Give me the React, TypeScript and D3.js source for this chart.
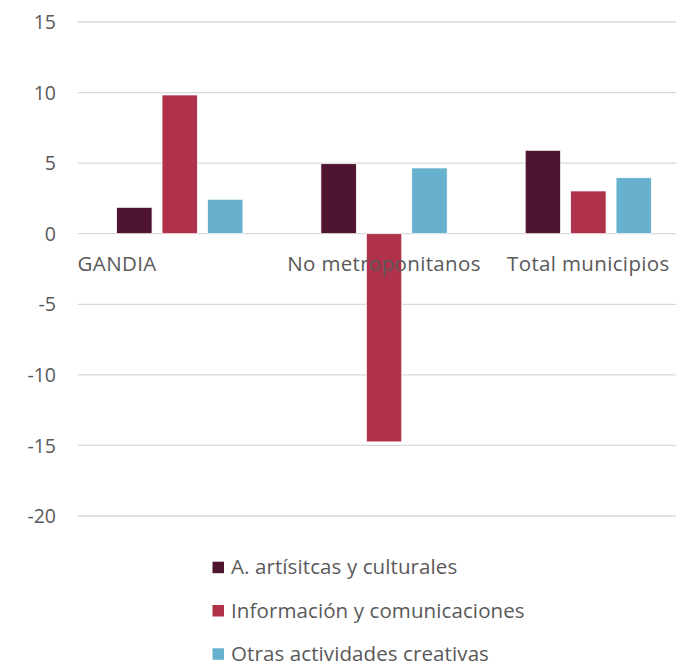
import React from "react";
import * as d3 from "d3";

const categories = ["GANDIA", "No metroponitanos", "Total municipios"];
const seriesNames = [
  "A. artísitcas y culturales",
  "Información y comunicaciones",
  "Otras actividades creativas",
];
const artisticas = [1.87, 4.96, 5.91];
const informacion = [9.83, -14.75, 3.03];
const otras = [2.44, 4.66, 3.97];
const yTicks = [15, 10, 5, 0, -5, -10, -15, -20];
const colors = ["#4E1430", "#B0314A", "#67B1CE"];

const W = 676;
const H = 664;
const FONT = "'Open Sans', Lato, sans-serif";
const TEXT = "#595959";
const FS = 20.5;
const LS = 0.35;

export default function App() {
  const series = [artisticas, informacion, otras];
  const y = d3.scaleLinear().domain([-20, 15]).range([516, 22]);
  const x0 = d3.scaleBand<string>().domain(categories).range([77.6, 690.5]).paddingInner(0).paddingOuter(0);
  const groupW = 126.3;
  const x1 = d3
    .scaleBand<number>()
    .domain([0, 1, 2])
    .range([0, groupW])
    .paddingInner(0.22);
  const gridX1 = 77.6;
  const gridX2 = 676;

  return (
    <svg
      width={W}
      height={H}
      style={{ position: "absolute", left: 0, top: 0, background: "#fff" }}
      fontFamily={FONT}
    >
      {yTicks.map((t) => (
        <g key={t}>
          <line x1={gridX1} x2={gridX2} y1={y(t)} y2={y(t)} stroke="#D9D9D9" strokeWidth={1.3} />
          <text x={56} y={y(t) + 7.2} textAnchor="end" fontSize={19.5} fill={TEXT}>
            {t}
          </text>
        </g>
      ))}
      {categories.map((c, ci) => {
        const gx = (x0(c) as number) + (x0.bandwidth() - groupW) / 2;
        return (
          <g key={c}>
            {series.map((s, si) => {
              const v = s[ci];
              const y0 = y(0);
              const yv = y(v);
              return (
                <rect
                  key={si}
                  x={gx + (x1(si) as number)}
                  y={Math.min(y0, yv)}
                  width={x1.bandwidth()}
                  height={Math.abs(yv - y0)}
                  fill={colors[si]}
                  stroke="#fff"
                  strokeWidth={0.75}
                />
              );
            })}
          </g>
        );
      })}
      {categories.map((c, ci) => {
        const cx = (x0(c) as number) + x0.bandwidth() / 2;
        const first = ci === 0;
        return (
          <text
            key={c}
            x={first ? x0.range()[0] : cx}
            y={271}
            textAnchor={first ? "start" : "middle"}
            fontSize={FS}
            letterSpacing={LS}
            fill={TEXT}
          >
            {c}
          </text>
        );
      })}
      {seriesNames.map((n, i) => (
        <g key={n} transform={`translate(212.5, ${561.7 + i * 43.3})`}>
          <rect x={0} y={0} width={11.5} height={11.5} fill={colors[i]} />
          <text x={18.5} y={12.6} fontSize={FS} letterSpacing={0.1} fill={TEXT}>
            {n}
          </text>
        </g>
      ))}
    </svg>
  );
}
